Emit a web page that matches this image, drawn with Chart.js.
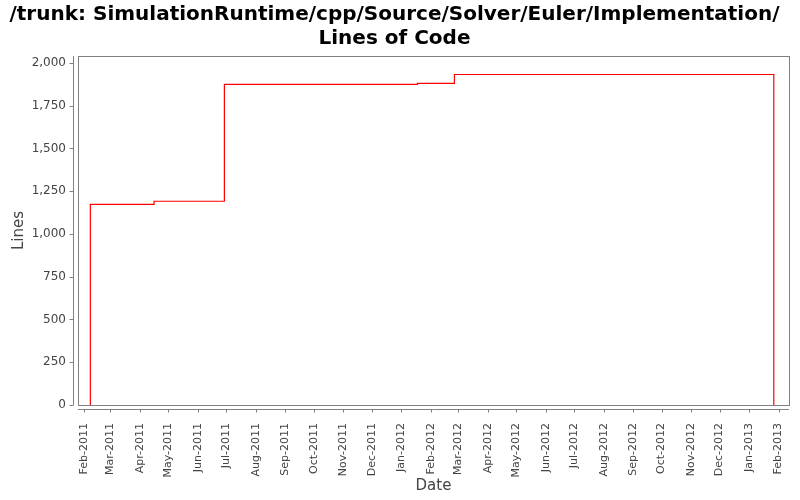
<!DOCTYPE html>
<html>
<head>
<meta charset="utf-8">
<script src="https://cdn.jsdelivr.net/npm/chart.js@4/dist/chart.umd.min.js"></script>
<style>
  html, body { margin: 0; padding: 0; background: #fff; }
  #wrap { width: 800px; height: 500px; }
</style>
</head>
<body>
<div id="wrap"><canvas id="chart"></canvas></div>
<script>
// step points of the LOC history (date, lines)
const dates = ['2011-02-08', '2011-02-08', '2011-04-16', '2011-06-29', '2012-01-18', '2012-02-26', '2013-01-27'];
const lines = [0, 1173, 1191, 1874, 1880, 1932, 0];

// x axis: one tick per month
const tickDates = [
  '2011-02-01', '2011-03-01', '2011-04-01', '2011-05-01', '2011-06-01', '2011-07-01',
  '2011-08-01', '2011-09-01', '2011-10-01', '2011-11-01', '2011-12-01', '2012-01-01',
  '2012-02-01', '2012-03-01', '2012-04-01', '2012-05-01', '2012-06-01', '2012-07-01',
  '2012-08-01', '2012-09-01', '2012-10-01', '2012-11-01', '2012-12-01', '2013-01-01',
  '2013-02-01'
];
const tickLabels = [
  'Feb-2011', 'Mar-2011', 'Apr-2011', 'May-2011', 'Jun-2011', 'Jul-2011',
  'Aug-2011', 'Sep-2011', 'Oct-2011', 'Nov-2011', 'Dec-2011', 'Jan-2012',
  'Feb-2012', 'Mar-2012', 'Apr-2012', 'May-2012', 'Jun-2012', 'Jul-2012',
  'Aug-2012', 'Sep-2012', 'Oct-2012', 'Nov-2012', 'Dec-2012', 'Jan-2013',
  'Feb-2013'
];
const xMin = '2011-01-26';
const xMax = '2013-02-12';
const yTicks = [0, 250, 500, 750, 1000, 1250, 1500, 1750, 2000];

const day = s => Date.parse(s + 'T00:00:00Z') / 86400000;
const tickDays = tickDates.map(day);
const axisGrey = '#808080';
const textGrey = '#444444';

// plot frame + offset axes with outward tick marks (JFreeChart look)
const axesPlugin = {
  id: 'axes',
  afterDraw(chart) {
    const { ctx, chartArea: a, scales } = chart;
    ctx.save();
    ctx.strokeStyle = axisGrey;
    ctx.lineWidth = 1;
    ctx.strokeRect(Math.round(a.left) + 0.5, Math.round(a.top) + 0.5,
      Math.round(a.right - a.left), Math.round(a.bottom - a.top));
    const ax = Math.round(a.left) - 4.5;
    const ay = Math.round(a.bottom) + 4.5;
    ctx.beginPath();
    ctx.moveTo(ax, a.top); ctx.lineTo(ax, a.bottom);
    scales.y.ticks.forEach(t => {
      const py = Math.round(scales.y.getPixelForValue(t.value)) + 0.5;
      ctx.moveTo(ax, py); ctx.lineTo(ax - 4, py);
    });
    ctx.moveTo(a.left, ay); ctx.lineTo(a.right, ay);
    scales.x.ticks.forEach(t => {
      const px = Math.round(scales.x.getPixelForValue(t.value)) + 0.5;
      ctx.moveTo(px, ay); ctx.lineTo(px, ay + 3);
    });
    ctx.stroke();
    ctx.restore();
  }
};

Chart.defaults.font.family = '"DejaVu Sans", sans-serif';
Chart.defaults.color = textGrey;

new Chart(document.getElementById('chart'), {
  type: 'line',
  data: {
    datasets: [{
      data: dates.map((d, i) => ({ x: day(d), y: lines[i] })),
      borderColor: '#ff0000',
      borderWidth: 1.2,
      pointRadius: 0,
      stepped: 'before',
      fill: false
    }]
  },
  options: {
    responsive: true,
    maintainAspectRatio: false,
    animation: false,
    layout: { padding: { top: 3, right: 11, bottom: 0, left: 0 } },
    plugins: {
      legend: { display: false },
      tooltip: { enabled: false },
      title: {
        display: true,
        text: ['/trunk: SimulationRuntime/cpp/Source/Solver/Euler/Implementation/', 'Lines of Code'],
        color: '#000',
        font: { size: 20, weight: 'bold' },
        lineHeight: 1.15,
        padding: { top: 0, bottom: 5 }
      }
    },
    scales: {
      x: {
        type: 'linear',
        min: day(xMin),
        max: day(xMax),
        afterBuildTicks: s => { s.ticks = tickDays.map(v => ({ value: v })); },
        afterFit: s => { s.height = 95; s.paddingLeft = 0; s.paddingRight = 0; },
        ticks: {
          autoSkip: false,
          minRotation: 90,
          maxRotation: 90,
          padding: 18,
          font: { size: 11 },
          callback: v => tickLabels[tickDays.indexOf(v)]
        },
        grid: { drawOnChartArea: false, drawTicks: false, color: 'transparent' },
        border: { display: false },
        title: { display: true, text: 'Date', font: { size: 15 }, padding: { top: 0, bottom: 5 } }
      },
      y: {
        min: 0,
        max: 2040,
        afterBuildTicks: s => { s.ticks = yTicks.map(v => ({ value: v })); },
        afterFit: s => { s.width = 78; s.paddingTop = 0; s.paddingBottom = 0; },
        ticks: {
          padding: 12,
          font: { size: 12 },
          callback: v => v.toLocaleString('en-US')
        },
        grid: { drawOnChartArea: false, drawTicks: false, color: 'transparent' },
        border: { display: false },
        title: { display: true, text: 'Lines', font: { size: 15 }, padding: { top: 10, bottom: 0 } }
      }
    }
  },
  plugins: [axesPlugin]
});
</script>
</body>
</html>
